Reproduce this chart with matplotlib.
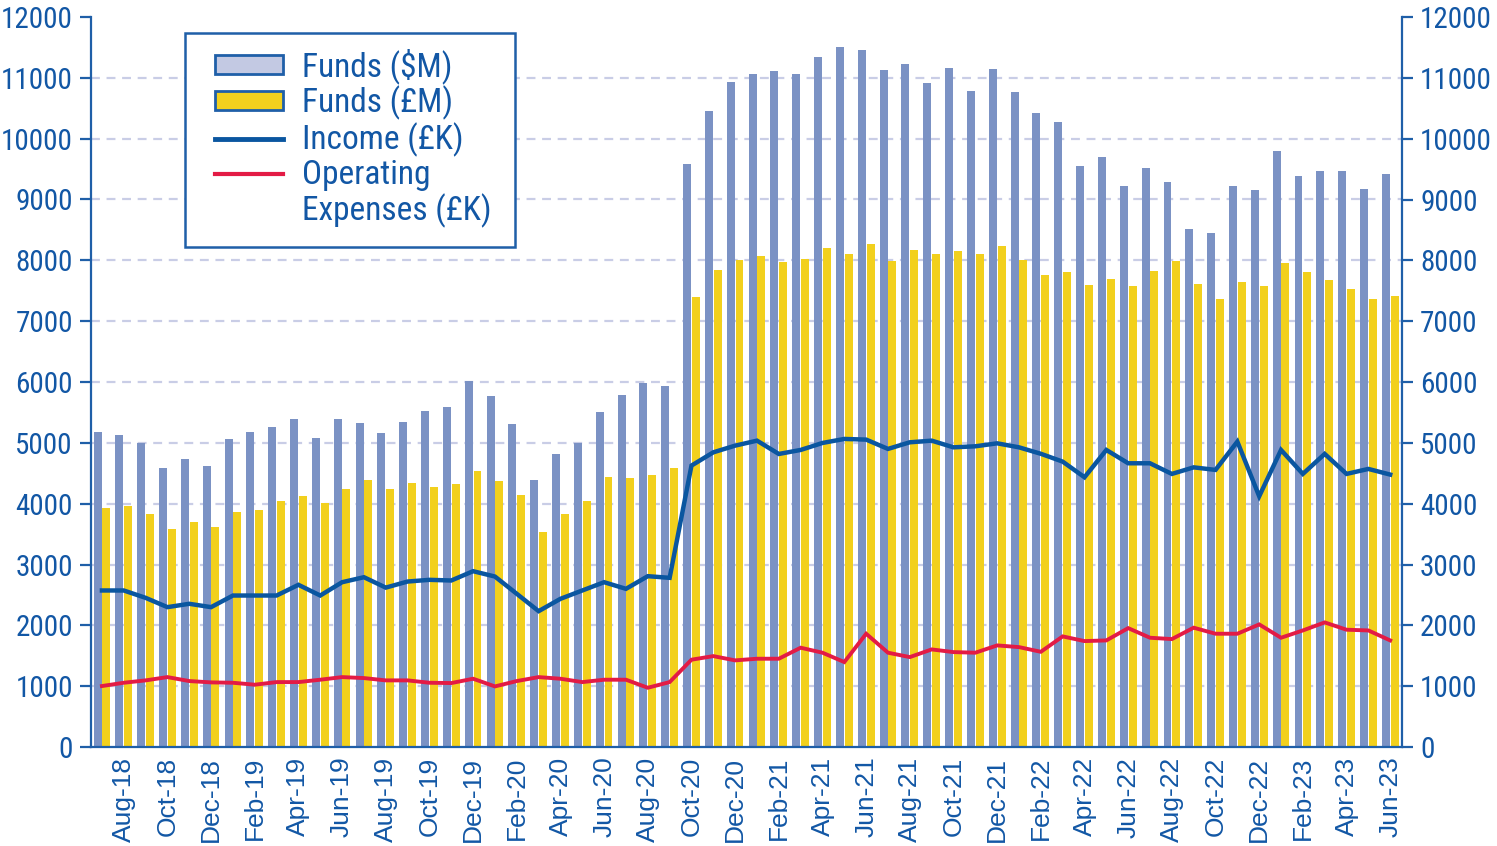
import matplotlib
matplotlib.use("Agg")
import matplotlib.pyplot as plt
from matplotlib.patches import Patch, Rectangle
from matplotlib.lines import Line2D
from matplotlib import font_manager
import numpy as np
import pandas as pd

# ---------------- data ----------------
months = pd.date_range("2018-07-01", periods=60, freq="MS").strftime("%b-%y").tolist()

funds_usd = [5170, 5134, 5003, 4592, 4740, 4625, 5068, 5183, 5265, 5397,
             5085, 5397, 5331, 5167, 5348, 5528, 5594, 6021, 5774, 5315,
             4395, 4822, 5003, 5512, 5791, 5988, 5939, 9585, 10455, 10931,
             11062, 11111, 11062, 11341, 11505, 11455, 11128, 11226, 10914, 11161,
             10783, 11144, 10766, 10422, 10274, 9551, 9699, 9223, 9519, 9289,
             8517, 8451, 9223, 9158, 9798, 9387, 9469, 9469, 9174, 9420]

funds_gbp = [3935, 3968, 3837, 3591, 3706, 3623, 3870, 3903, 4050, 4133,
             4018, 4247, 4395, 4247, 4346, 4280, 4330, 4543, 4379, 4149,
             3541, 3837, 4050, 4444, 4428, 4477, 4592, 7401, 7844, 8008,
             8073, 7975, 8024, 8205, 8106, 8270, 7991, 8172, 8106, 8155,
             8106, 8238, 8008, 7762, 7811, 7598, 7696, 7581, 7827, 7992,
             7614, 7368, 7647, 7581, 7959, 7811, 7680, 7532, 7368, 7417]

income = [2573, 2573, 2452, 2299, 2354, 2299, 2490, 2490, 2490, 2666,
          2490, 2709, 2791, 2620, 2720, 2748, 2737, 2890, 2802, 2518,
          2233, 2436, 2573, 2709, 2600, 2808, 2781, 4626, 4844, 4954,
          5036, 4817, 4883, 4998, 5064, 5053, 4900, 5009, 5036, 4926,
          4943, 4992, 4926, 4820, 4691, 4434, 4883, 4664, 4664, 4489,
          4597, 4555, 5020, 4121, 4883, 4489, 4818, 4489, 4571, 4478]

expenses = [1002, 1056, 1095, 1149, 1084, 1062, 1056, 1024, 1067, 1067,
            1106, 1149, 1133, 1095, 1095, 1056, 1051, 1122, 996, 1084,
            1149, 1122, 1067, 1106, 1106, 974, 1067, 1435, 1494, 1424,
            1451, 1451, 1632, 1550, 1396, 1862, 1550, 1478, 1604, 1560,
            1550, 1670, 1642, 1565, 1818, 1741, 1752, 1954, 1796, 1774,
            1961, 1862, 1862, 2015, 1796, 1916, 2048, 1928, 1916, 1752]

y_ticks = list(range(0, 12001, 1000))

# ---------------- style ----------------
names = {f.name for f in font_manager.fontManager.ttflist}
narrow = "Liberation Sans"
for cand in ["Roboto Condensed", "Archivo Narrow", "PT Sans Narrow", "Fira Sans Condensed",
             "IBM Plex Sans Condensed", "Encode Sans Condensed", "Asap Condensed",
             "Liberation Sans Narrow", "Open Sans Condensed"]:
    if cand in names:
        narrow = cand
        break
reg = "Liberation Sans"

C_BLUEBAR = "#7b92c4"
C_YELLOW = "#f2d01d"
C_INCOME = "#0a56a0"
C_EXP = "#e31b45"
C_AXIS = "#1f5fa8"
C_TEXT = "#1257a5"
C_GRID = "#c9cde6"

W, H = 1497, 846
fig = plt.figure(figsize=(W / 100, H / 100), dpi=100)
ax = fig.add_axes([91 / W, 1 - 747 / H, (1402 - 91) / W, 730 / H])

x = np.arange(len(months))
bw = 0.365
ax.bar(x - 0.2, funds_usd, width=bw, color=C_BLUEBAR, zorder=2)
ax.bar(x + 0.2, funds_gbp, width=bw, color=C_YELLOW, zorder=2)
ax.plot(x, income, color=C_INCOME, lw=3.2, zorder=3, solid_joinstyle="miter")
ax.plot(x, expenses, color=C_EXP, lw=2.8, zorder=3, solid_joinstyle="miter")

ax.set_xlim(-0.5, len(months) - 0.46)
ax.set_ylim(0, 12000)
ax.set_yticks(y_ticks)
ax.set_yticklabels([str(v) for v in y_ticks], family=narrow, fontsize=21, color=C_TEXT)

ax.set_xticks(x[1::2])
ax.set_xticklabels(months[1::2], rotation=90, family=reg, fontsize=19, color=C_TEXT)
ax.tick_params(axis="x", length=0, pad=7)
ax.tick_params(axis="y", direction="out", length=8, width=1.6, color=C_AXIS, pad=5)

for s in ["top", "right"]:
    ax.spines[s].set_visible(False)
for s in ["left", "bottom"]:
    ax.spines[s].set_color(C_AXIS)
    ax.spines[s].set_linewidth(1.6)

ax.yaxis.grid(True, color=C_GRID, lw=1.6, linestyle=(0, (4, 3)), zorder=0)
ax.set_axisbelow(True)
gl = ax.yaxis.get_gridlines()
gl[0].set_visible(False)
gl[-1].set_visible(False)

ax2 = ax.twinx()
ax2.set_ylim(0, 12000)
ax2.set_yticks(y_ticks)
ax2.set_yticklabels([str(v) for v in y_ticks], family=narrow, fontsize=21, color=C_TEXT)
ax2.tick_params(axis="y", direction="out", length=8, width=1.6, color=C_AXIS, pad=5)
for s in ["top", "left", "bottom"]:
    ax2.spines[s].set_visible(False)
ax2.spines["right"].set_color(C_AXIS)
ax2.spines["right"].set_linewidth(1.6)

# legend box
ax2.add_patch(Rectangle((185 / W, 1 - 247 / H), 330 / W, 214 / H, transform=fig.transFigure,
                        facecolor="white", edgecolor=C_AXIS, lw=1.8, zorder=4, clip_on=False))

handles = [
    Patch(facecolor="#c3c9e3", edgecolor=C_AXIS, lw=2),
    Patch(facecolor=C_YELLOW, edgecolor=C_AXIS, lw=2),
    Line2D([], [], color=C_INCOME, lw=3.5),
    Line2D([], [], color=C_EXP, lw=3),
    Patch(facecolor="none", edgecolor="none"),
]
labels = ["Funds ($M)", "Funds (£M)", "Income (£K)", "Operating", "Expenses (£K)"]
leg = ax2.legend(handles, labels, loc="upper left",
                 bbox_to_anchor=(215 / W, 1 - 48 / H), bbox_transform=fig.transFigure,
                 borderaxespad=0, frameon=False,
                 prop={"family": narrow, "size": 24},
                 handlelength=2.05, handleheight=0.5, handletextpad=0.55,
                 labelspacing=0.065, borderpad=0)
leg.set_zorder(5)
for t in leg.get_texts():
    t.set_color(C_TEXT)

fig.savefig("out.png", dpi=100)
